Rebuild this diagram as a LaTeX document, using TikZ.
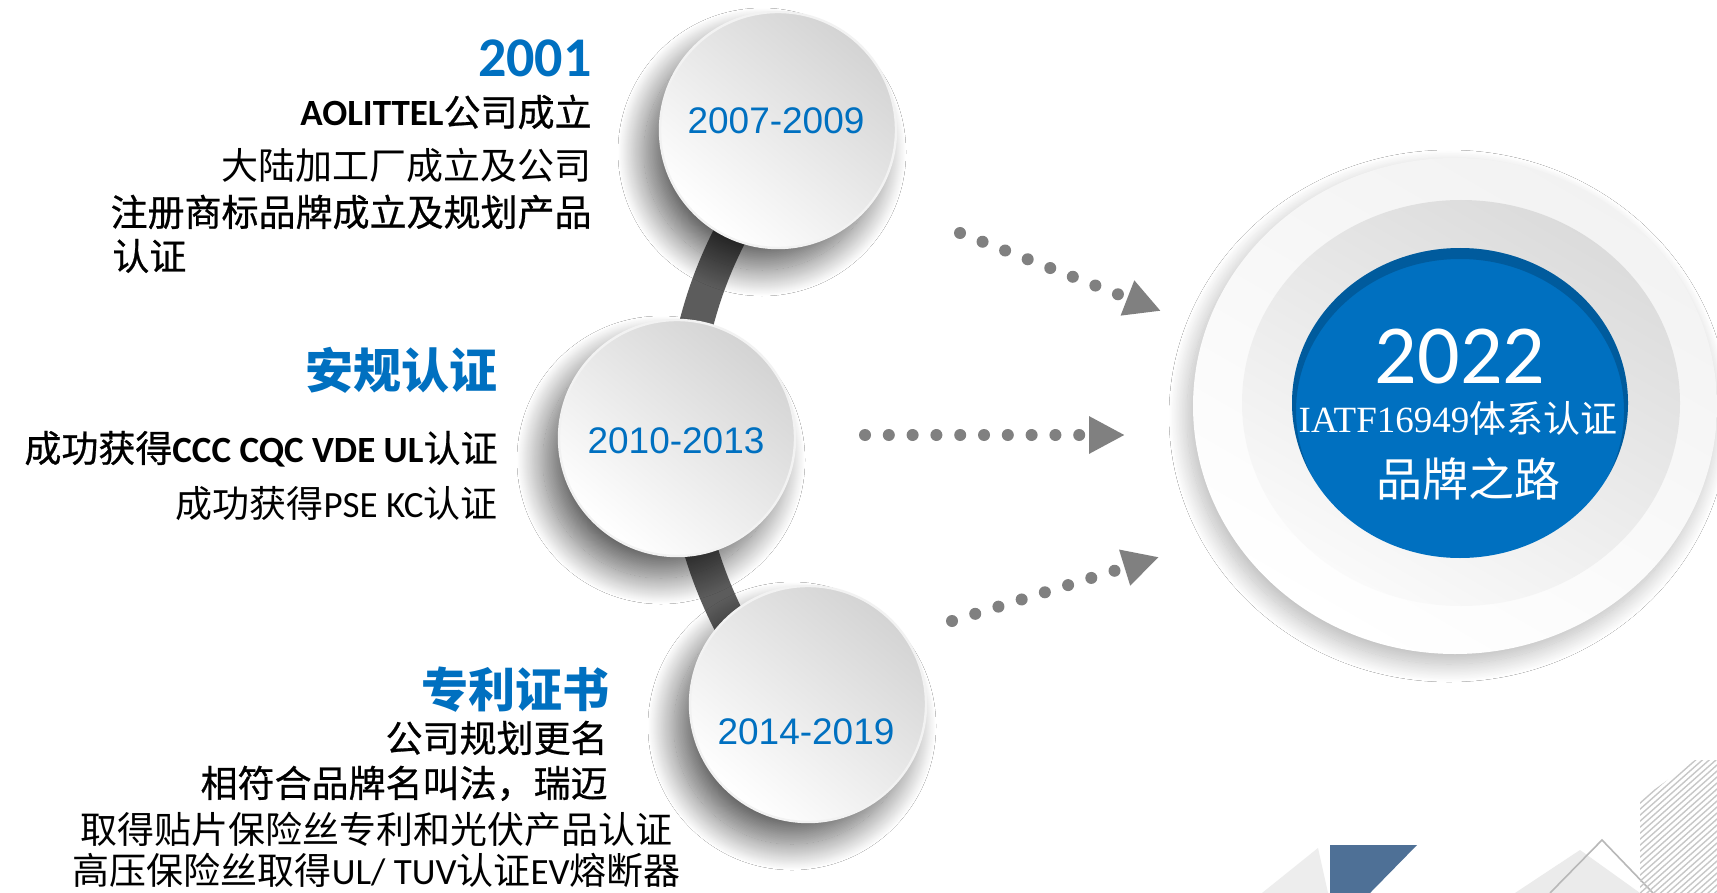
\documentclass[tikz,border=0pt]{standalone}
\usepackage{fontspec}
\setmainfont{Carlito}
\newfontfamily\cjk{Noto Sans CJK SC}
\newfontfamily\cjkm{Noto Sans CJK SC}[FakeBold=0.7]
\newfontfamily\lat{Carlito}
\newfontfamily\ari{Liberation Sans}
\newfontfamily\ser{Liberation Serif}
\usetikzlibrary{shapes.geometric,arrows.meta,shadows.blur,calc}
\definecolor{tblue}{HTML}{0070C0}
\definecolor{dotgray}{HTML}{808080}
\definecolor{bandgray}{HTML}{5C5C5C}
\definecolor{deco}{HTML}{4E7096}
\tikzset{
 yearcirc/.style={circle, minimum size=118pt, inner sep=0pt, top color=black!17, bottom color=white, shading angle=-40, draw=black!5, line width=1.2pt,
   blur shadow={shadow xshift=-8pt, shadow yshift=-11pt, shadow blur radius=13pt, shadow blur steps=40, shadow opacity=60}},
 yeartext/.style={anchor=base, inner sep=0pt, text=tblue, font=\ari\fontsize{18.5pt}{20pt}\selectfont},
 body/.style={anchor=base east, inner sep=0pt, text=black, font=\cjk\fontsize{18.5pt}{22pt}\selectfont},
 bodym/.style={anchor=base east, inner sep=0pt, text=black, font=\cjkm\fontsize{18.5pt}{22pt}\selectfont},
 bodymw/.style={anchor=base west, inner sep=0pt, text=black, font=\cjkm\fontsize{18.5pt}{22pt}\selectfont},
 head/.style={anchor=base east, inner sep=0pt, text=tblue, font=\cjk\bfseries\fontsize{24pt}{28pt}\selectfont},
 dotarrow/.style={dotgray, line width=6pt, line cap=round, dash pattern=on 0pt off #1, -{Triangle[length=18pt,width=17.5pt]}},
 intext/.style={anchor=base, inner sep=0pt, text=white},
}
\begin{document}
\begin{tikzpicture}[x=0.5pt,y=-0.5pt]
\useasboundingbox (0,0) rectangle (1717,893);
\fill[white] (0,0) rectangle (1717,893);

% big target circle
\node[ellipse, minimum width=262pt, minimum height=248pt, inner sep=0pt, top color=black!5, bottom color=white, shading angle=-30,
  blur shadow={shadow xshift=-3pt, shadow yshift=-5pt, shadow blur radius=9pt, shadow blur steps=30, shadow opacity=28}] (outer) at (1455,406) {};
\node[ellipse, minimum width=219pt, minimum height=203pt, inner sep=0pt, top color=black!14, bottom color=black!2, shading angle=-30] (inner) at (1461,403) {};
\node[ellipse, minimum width=168pt, minimum height=155pt, inner sep=0pt, fill=tblue] (core) at (1460,403) {};
\begin{scope}
 \clip (1460,403) ellipse [x radius=168, y radius=155];
 \draw[line width=8pt, black, opacity=0.18] (1460,411) ellipse [x radius=172, y radius=160];
\end{scope}
\node[intext, font=\lat\fontsize{42pt}{44pt}\selectfont] (y2022) at (1460,383) {2022};
\node[intext, font=\fontsize{18.5pt}{20pt}\selectfont] (iatf) at (1458,432) {{\ser IATF16949}{\cjk 体系认证}};
\node[intext, font=\cjk\fontsize{23pt}{25pt}\selectfont] (brand) at (1468,496) {品牌之路};

% connecting band
\draw[bandgray, line width=17pt] ([shift={(1106,429)}]213:423) arc[start angle=213, end angle=147, radius=423];

% year circles
\node[yearcirc] (c1) at (778,130) {};
\node[yearcirc] (c2) at (677,438) {};
\node[yearcirc] (c3) at (808,704) {};
\node[yeartext] (t1) at (776,134) {2007-2009};
\node[yeartext] (t2) at (676,453) {2010-2013};
\node[yeartext] (t3) at (806,744) {2014-2019};

% left texts
\node[anchor=base east, inner sep=0pt, text=tblue, font=\lat\bfseries\fontsize{28pt}{30pt}\selectfont] (h1) at (592,77) {2001};
\node[bodym] (l1) at (592,126) {{\lat\bfseries AOLITTEL}公司成立};
\node[body] (l2) at (592,180) {大陆加工厂成立及公司};
\node[bodym] (l3) at (592,226) {注册商标品牌成立及规划产品};
\node[bodymw] (l4) at (112,270) {认证};

\node[head] (h2) at (498,388) {安规认证};
\node[bodym] (m1) at (498,462) {成功获得{\lat\bfseries CCC CQC VDE UL}认证};
\node[body] (m2) at (498,517) {成功获得{\lat PSE KC}认证};

\node[head, font=\cjk\bfseries\fontsize{23.5pt}{28pt}\selectfont] (h3) at (610,707) {专利证书};
\node[bodym] (b1) at (608,752) {公司规划更名};
\node[bodym] (b2) at (608,797) {相符合品牌名叫法，瑞迈};
\node[body] (b3) at (673,843) {取得贴片保险丝专利和光伏产品认证};
\node[body] (b4) at (681,884) {高压保险丝取得{\lat UL/ TUV}认证{\lat EV}熔断器};

% dotted arrows
\coordinate (a1s) at (960,233); \coordinate (a1e) at (1161,311);
\coordinate (a2s) at (865,435); \coordinate (a2e) at (1125,435);
\coordinate (a3s) at (952,621); \coordinate (a3e) at (1159,557);
\draw[dotarrow=12.1pt] (a1s) -- (a1e);
\draw[dotarrow=11.9pt] (a2s) -- (a2e);
\draw[dotarrow=12.15pt] (a3s) -- (a3e);

% bottom-right decoration
\fill[black!7] (1262,893) -- (1318,848) -- (1328,893) -- cycle;
\fill[deco] (1330,845) -- (1417,845) -- (1370,893) -- (1330,893) -- cycle;
\fill[black!8] (1515,893) -- (1580,850) -- (1640,893) -- cycle;
\draw[black!28, line width=0.8pt] (1550,893) -- (1602,840) -- (1653,893);
\begin{scope}
 \clip (1640,800) -- (1695,760) -- (1717,760) -- (1717,893) -- (1640,893) -- cycle;
 \foreach \k in {0,...,40} \draw[black!22, line width=0.7pt] (1630,{770+\k*6}) -- ++(130,-115);
\end{scope}
\end{tikzpicture}
\end{document}
